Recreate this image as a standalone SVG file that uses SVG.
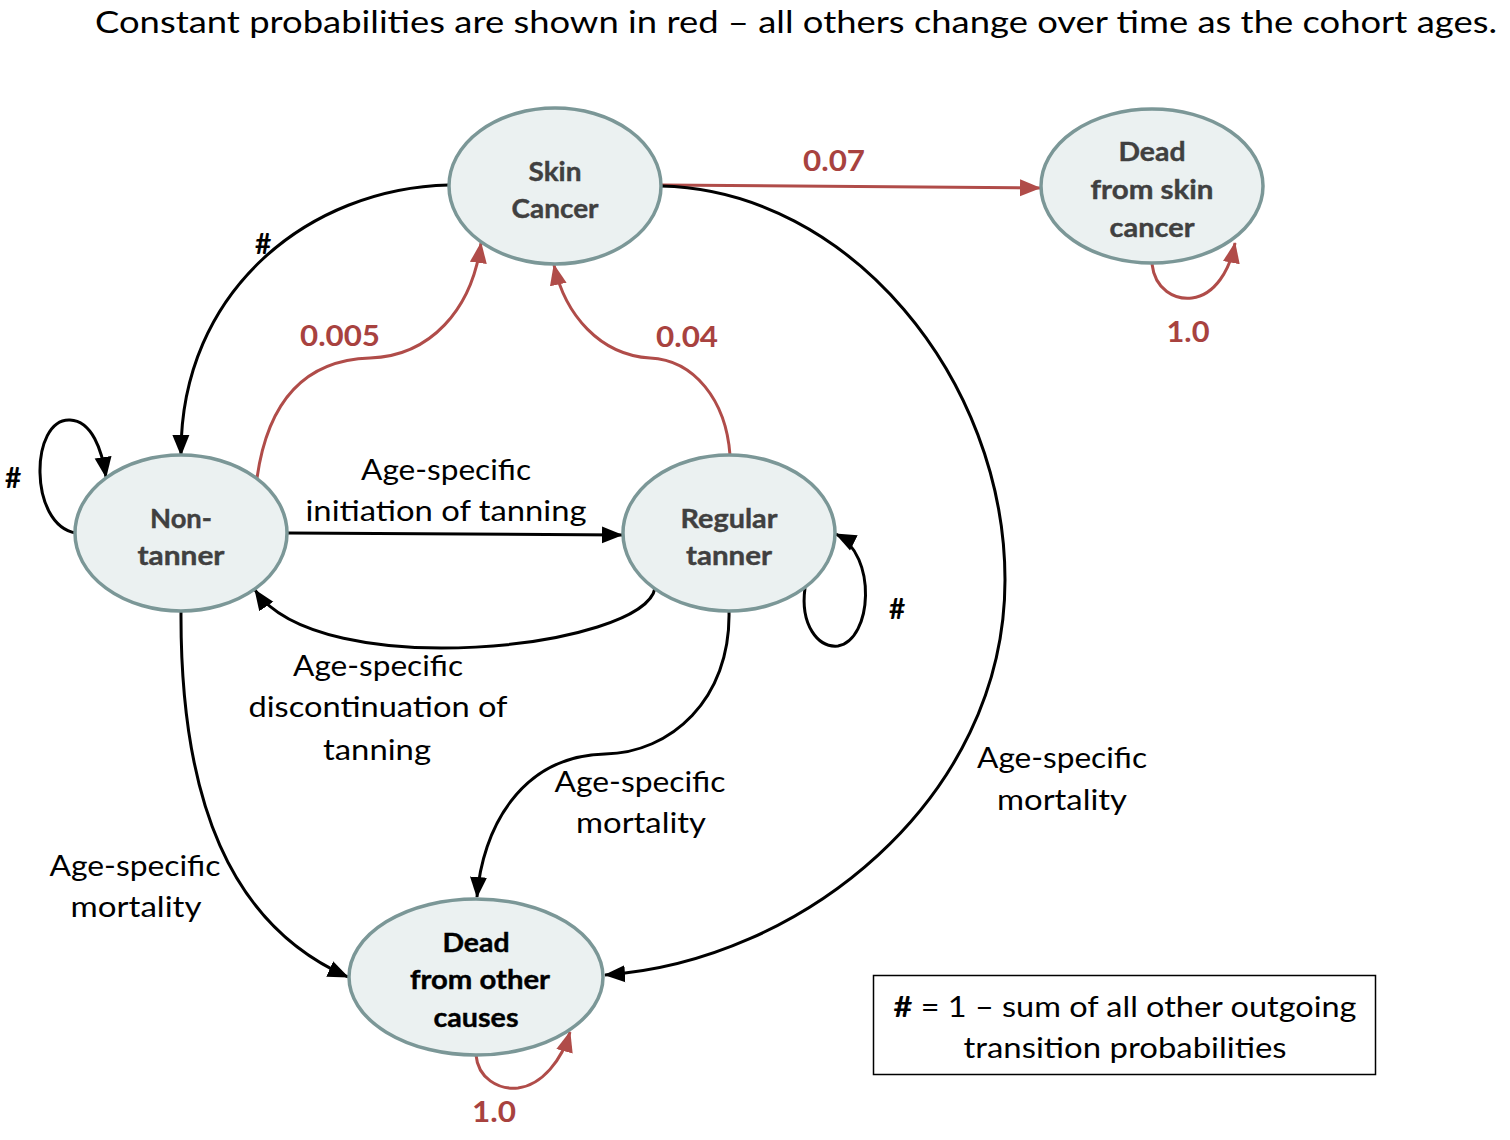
<svg xmlns="http://www.w3.org/2000/svg" width="1510" height="1140" viewBox="0 0 1510 1140">
<defs>
<marker id="ab" markerUnits="userSpaceOnUse" markerWidth="22" markerHeight="22" viewBox="0 0 22 22" refX="20" refY="11" orient="auto"><path d="M0,2.5 L21,11 L0,19.5 Z" fill="#000"/></marker>
<marker id="ar" markerUnits="userSpaceOnUse" markerWidth="22" markerHeight="22" viewBox="0 0 22 22" refX="20" refY="11" orient="auto"><path d="M0,2.5 L21,11 L0,19.5 Z" fill="#b04c49"/></marker>
</defs>
<style>
.node ellipse{fill:#ebf1f1;stroke:#7b9797;stroke-width:3.5}
.nt{font-family:Lato,"Open Sans",sans-serif;font-weight:bold;font-size:27px;fill:#404040;text-anchor:middle;stroke:#404040;stroke-width:0.4}
.nk{fill:#000;stroke:#000}
.lbl{font-family:Lato,"Open Sans",sans-serif;font-size:29px;fill:#000;text-anchor:middle}
.red{font-family:Lato,"Open Sans",sans-serif;font-weight:bold;font-size:28px;fill:#a8423f;text-anchor:middle}
.hash{font-family:Lato,"Open Sans",sans-serif;font-weight:bold;font-size:28px;fill:#000;text-anchor:middle}
.cb{fill:none;stroke:#000;stroke-width:3;marker-end:url(#ab)}
.cr{fill:none;stroke:#b04c49;stroke-width:3;marker-end:url(#ar)}
</style>
<rect width="1510" height="1140" fill="#fff"/>
<text x="796" y="33" font-family="Lato,'Open Sans',sans-serif" font-size="31" text-anchor="middle" textLength="1402" lengthAdjust="spacingAndGlyphs">Constant probabilities are shown in red – all others change over time as the cohort ages.</text>

<g id="connectors">
<path class="cr" d="M661,185 L1040,188"/>
<path class="cb" d="M449,185 C310,188 180,290 181,455"/>
<path class="cr" d="M257,478 C268,400 305,360 370,358 C430,356 472,310 481,243"/>
<path class="cr" d="M730,455 C726,400 694,360 650,358 C600,355 565,315 554,265"/>
<path class="cb" d="M288,533 L622,535"/>
<path class="cb" d="M655,588 C645,648 320,685 255,590"/>
<path class="cb" d="M76,533 C28,525 30,418 70,420 C92,421 102,450 106,477"/>
<path class="cb" d="M805,588 C800,625 818,648 838,646 C872,640 878,555 836,534"/>
<path class="cb" d="M181,611 C180,800 230,925 348,977"/>
<path class="cb" d="M729,611 C731,700 670,753 605,754 C520,756 482,830 477,897"/>
<path class="cb" d="M661,186 C850,190 1005,380 1005,580 C1005,800 800,962 605,975"/>
<path class="cr" d="M1152,264 C1155,290 1175,300 1192,298 C1215,295 1230,270 1235,243"/>
<path class="cr" d="M476,1055 C478,1078 498,1090 518,1088 C542,1085 562,1060 570,1032"/>
</g>

<g id="labels">
<text class="red" x="834" y="171" textLength="62" lengthAdjust="spacingAndGlyphs">0.07</text>
<text class="red" x="340" y="346" textLength="80" lengthAdjust="spacingAndGlyphs">0.005</text>
<text class="red" x="687" y="347" textLength="62" lengthAdjust="spacingAndGlyphs">0.04</text>
<text class="red" x="1188" y="342" textLength="43" lengthAdjust="spacingAndGlyphs">1.0</text>
<text class="red" x="494" y="1122" textLength="44" lengthAdjust="spacingAndGlyphs">1.0</text>
<text class="hash" x="263" y="254">#</text>
<text class="hash" x="13" y="488">#</text>
<text class="hash" x="897" y="619">#</text>
<text class="lbl" x="446" y="480" textLength="170" lengthAdjust="spacingAndGlyphs">Age-specific</text>
<text class="lbl" x="446" y="521" textLength="281" lengthAdjust="spacingAndGlyphs">initiation of tanning</text>
<text class="lbl" x="378" y="676" textLength="170" lengthAdjust="spacingAndGlyphs">Age-specific</text>
<text class="lbl" x="378" y="717" textLength="259" lengthAdjust="spacingAndGlyphs">discontinuation of</text>
<text class="lbl" x="377" y="760" textLength="108" lengthAdjust="spacingAndGlyphs">tanning</text>
<text class="lbl" x="640" y="792" textLength="171" lengthAdjust="spacingAndGlyphs">Age-specific</text>
<text class="lbl" x="641" y="833" textLength="130" lengthAdjust="spacingAndGlyphs">mortality</text>
<text class="lbl" x="135" y="876" textLength="171" lengthAdjust="spacingAndGlyphs">Age-specific</text>
<text class="lbl" x="136" y="917" textLength="131" lengthAdjust="spacingAndGlyphs">mortality</text>
<text class="lbl" x="1062" y="768" textLength="170" lengthAdjust="spacingAndGlyphs">Age-specific</text>
<text class="lbl" x="1062" y="810" textLength="130" lengthAdjust="spacingAndGlyphs">mortality</text>
</g>

<g id="skin-cancer" class="node">
<ellipse cx="555" cy="186" rx="106" ry="78"/>
<text class="nt" x="555" y="181" textLength="53" lengthAdjust="spacingAndGlyphs">Skin</text>
<text class="nt" x="555" y="218" textLength="87" lengthAdjust="spacingAndGlyphs">Cancer</text>
</g>
<g id="dead-skin" class="node">
<ellipse cx="1152" cy="186" rx="111" ry="77"/>
<text class="nt" x="1152" y="161" textLength="67" lengthAdjust="spacingAndGlyphs">Dead</text>
<text class="nt" x="1152" y="199" textLength="123" lengthAdjust="spacingAndGlyphs">from skin</text>
<text class="nt" x="1152" y="237" textLength="85" lengthAdjust="spacingAndGlyphs">cancer</text>
</g>
<g id="non-tanner" class="node">
<ellipse cx="181" cy="533" rx="106" ry="78"/>
<text class="nt" x="181" y="528" textLength="62" lengthAdjust="spacingAndGlyphs">Non-</text>
<text class="nt" x="181" y="565" textLength="87" lengthAdjust="spacingAndGlyphs">tanner</text>
</g>
<g id="regular-tanner" class="node">
<ellipse cx="729" cy="533" rx="106" ry="78"/>
<text class="nt" x="729" y="528" textLength="97" lengthAdjust="spacingAndGlyphs">Regular</text>
<text class="nt" x="729" y="565" textLength="86" lengthAdjust="spacingAndGlyphs">tanner</text>
</g>
<g id="dead-other" class="node">
<ellipse cx="476" cy="977" rx="127" ry="78"/>
<text class="nt nk" x="476" y="952" textLength="67" lengthAdjust="spacingAndGlyphs">Dead</text>
<text class="nt nk" x="480" y="989" textLength="140" lengthAdjust="spacingAndGlyphs">from other</text>
<text class="nt nk" x="476" y="1027" textLength="85" lengthAdjust="spacingAndGlyphs">causes</text>
</g>

<g id="legend">
<rect x="873.5" y="975.5" width="502" height="99" fill="#fff" stroke="#000" stroke-width="1.5"/>
<text class="lbl" x="1125" y="1017" textLength="463" lengthAdjust="spacingAndGlyphs"><tspan font-weight="bold">#</tspan> = 1 – sum of all other outgoing</text>
<text class="lbl" x="1125" y="1058" textLength="323" lengthAdjust="spacingAndGlyphs">transition probabilities</text>
</g>
</svg>
